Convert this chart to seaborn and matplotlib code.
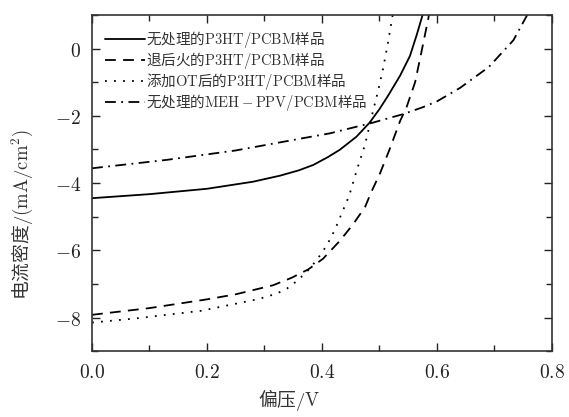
import matplotlib
matplotlib.use("Agg")
import matplotlib.pyplot as plt
import seaborn as sns
import pandas as pd
from matplotlib.ticker import MultipleLocator

# Data
v_untreated = [0.0, 0.10, 0.20, 0.28, 0.327, 0.36, 0.385, 0.41, 0.431, 0.46, 0.483,
               0.50, 0.515, 0.536, 0.553, 0.565, 0.575]
j_untreated = [-4.45, -4.33, -4.17, -3.96, -3.78, -3.62, -3.46, -3.23, -3.01, -2.62, -2.20,
               -1.80, -1.40, -0.80, -0.22, 0.42, 1.0]

v_annealed = [0.0, 0.10, 0.20, 0.25, 0.315, 0.347, 0.376, 0.402, 0.431, 0.454, 0.475, 0.486,
              0.501, 0.518, 0.536, 0.547, 0.562, 0.573, 0.585, 0.586]
j_annealed = [-7.92, -7.72, -7.46, -7.31, -7.04, -6.82, -6.57, -6.25, -5.72, -5.23, -4.71, -4.26,
              -3.71, -2.98, -2.15, -1.75, -1.00, -0.10, 0.90, 1.0]

v_ot = [0.0, 0.075, 0.19, 0.29, 0.321, 0.339, 0.356, 0.373, 0.388, 0.401, 0.411, 0.42, 0.428,
        0.435, 0.443, 0.449, 0.46, 0.475, 0.486, 0.497, 0.506, 0.514, 0.522, 0.523]
j_ot = [-8.15, -8.03, -7.80, -7.45, -7.29, -7.14, -6.92, -6.65, -6.35, -6.05, -5.77, -5.47, -5.17,
        -4.87, -4.56, -4.28, -3.65, -2.85, -2.05, -1.30, -0.62, 0.10, 0.90, 1.0]

v_meh = [0.0, 0.13, 0.25, 0.362, 0.414, 0.489, 0.541, 0.576, 0.60, 0.64, 0.69, 0.733, 0.757]
j_meh = [-3.56, -3.31, -3.03, -2.68, -2.52, -2.20, -1.95, -1.74, -1.57, -1.17, -0.55, 0.25, 1.0]

labels = [
    "无处理的$\\mathrm{P3HT/PCBM}$样品",
    "退后火的$\\mathrm{P3HT/PCBM}$样品",
    "添加$\\mathrm{OT}$后的$\\mathrm{P3HT/PCBM}$样品",
    "无处理的$\\mathrm{MEH-PPV/PCBM}$样品",
]
xlabel = "偏压$/\\mathrm{V}$"
ylabel = "电流密度$/(\\mathrm{mA/cm^2})$"
xticks = [0.0, 0.2, 0.4, 0.6, 0.8]
yticks = [0, -2, -4, -6, -8]

sns.set_theme(style="ticks")
plt.rcParams["font.family"] = ["Noto Sans CJK SC", "DejaVu Sans"]
plt.rcParams["mathtext.fontset"] = "cm"
plt.rcParams["axes.unicode_minus"] = True

fig = plt.figure(figsize=(5.69, 4.17), dpi=100)
ax = fig.add_axes([0.1617, 0.158, 0.8083, 0.806])

series = [(v_untreated, j_untreated), (v_annealed, j_annealed), (v_ot, j_ot), (v_meh, j_meh)]
styles = ["-", (0, (6, 4)), (0, (1, 4)), (0, (6, 3, 1, 3))]
for (v, j), lab, ls in zip(series, labels, styles):
    df = pd.DataFrame({"V": v, "J": j})
    sns.lineplot(data=df, x="V", y="J", ax=ax, color="black", lw=1.3,
                 linestyle=ls, label=lab, sort=False, estimator=None)

ax.set_xlim(0, 0.8)
ax.set_ylim(-9, 1)
ax.set_xticks(xticks)
ax.set_yticks(yticks)
ax.set_xticklabels([f"${t:.1f}$" for t in xticks])
ax.set_yticklabels([f"${t}$" for t in yticks])
ax.xaxis.set_minor_locator(MultipleLocator(0.1))
ax.yaxis.set_minor_locator(MultipleLocator(1))
ax.tick_params(which="both", direction="in", top=True, right=True, colors="#222222",
               labelcolor="#222222")
ax.tick_params(which="major", length=6, width=1.0, labelsize=14, pad=8)
ax.tick_params(which="minor", length=4, width=1.0)
for s in ax.spines.values():
    s.set_linewidth(1.2)
    s.set_color("#333333")

ax.set_xlabel(xlabel, fontsize=13.5, color="#333333")
ax.set_ylabel(ylabel, fontsize=13.5, color="#333333")
ax.xaxis.set_label_coords(0.43, -0.108)
ax.yaxis.set_label_coords(-0.125, 0.405)

leg = ax.legend(loc="upper left", frameon=False, fontsize=10.5, handlelength=2.7,
                labelspacing=0.0, handletextpad=0.1, borderaxespad=0.2,
                bbox_to_anchor=(0.01, 0.985))
for t in leg.get_texts():
    t.set_color("#333333")

fig.savefig("out.png", dpi=100)
